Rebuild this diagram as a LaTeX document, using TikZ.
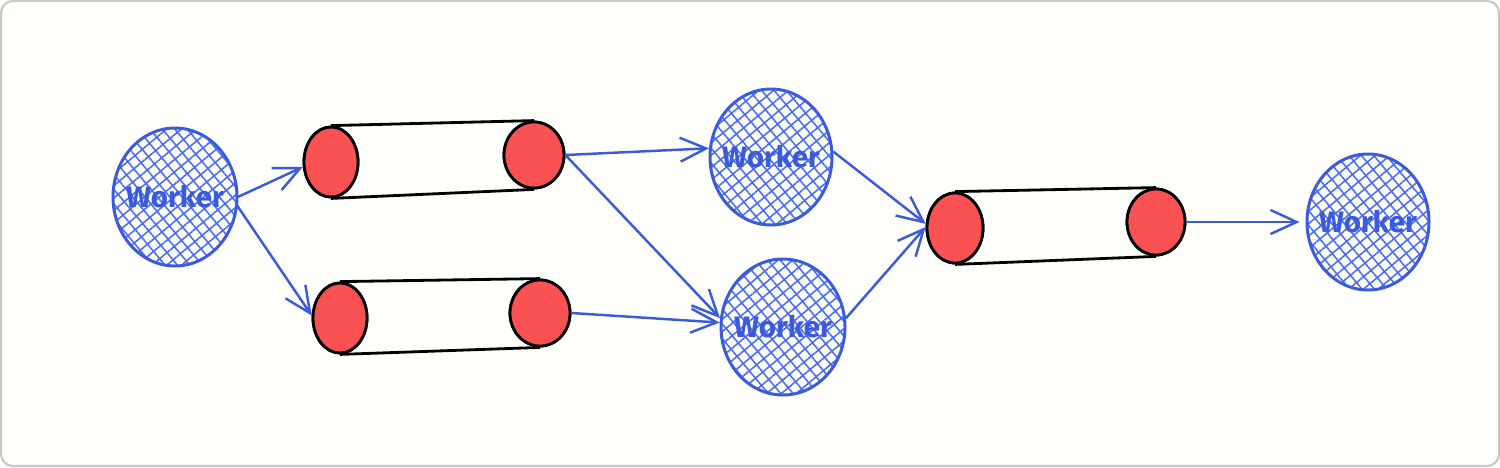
\documentclass[tikz,border=0pt]{standalone}
\usepackage{fontspec}
\setmainfont{Fira Sans}
\usetikzlibrary{shapes.geometric,arrows.meta,patterns.meta}
\definecolor{bg}{HTML}{FFFFFC}
\definecolor{frame}{HTML}{C8C8C8}
\definecolor{wblue}{HTML}{3B5BDB}
\definecolor{hblue}{HTML}{4C6EF5}
\definecolor{qred}{HTML}{FA5252}
\tikzset{
  worker/.style={ellipse, draw=wblue, line width=0.85pt, inner sep=0pt,
    pattern={Hatch[angle=40,distance=2.7pt,line width=0.45pt]}, pattern color=hblue},
  wtext/.style={text=wblue, font=\fontsize{8.4}{10}\selectfont\bfseries, inner sep=0pt},
  qend/.style={ellipse, draw=black, line width=0.8pt, fill=qred, inner sep=0pt},
  tube/.style={draw=black, line width=0.8pt},
  arr/.style={draw=wblue, line width=0.7pt, -{Straight Barb[length=2.6mm,width=2.4mm,line width=0.7pt]}},
}
\begin{document}
\begin{tikzpicture}[x=0.1mm,y=-0.1mm]
\useasboundingbox (0,0) rectangle (1500,467);
\fill[bg, rounded corners=1.2mm] (0,0) rectangle (1500,467);
\draw[frame, line width=0.6pt, rounded corners=1.2mm] (1,1) rectangle (1499,466);

% workers
\node[worker, minimum width=12.4mm, minimum height=13.8mm] (w1) at (175,197) {};
\node[wtext] (w1t) at (w1) {Worker};
\node[worker, minimum width=12.2mm, minimum height=13.6mm] (w2) at (771,157) {};
\node[wtext] (w2t) at (w2) {Worker};
\node[worker, minimum width=12.4mm, minimum height=13.6mm] (w3) at (783,327) {};
\node[wtext] (w3t) at (w3) {Worker};
\node[worker, minimum width=12.2mm, minimum height=13.6mm] (w4) at (1368,222) {};
\node[wtext] (w4t) at (w4) {Worker};

% queue 1
\node[qend, minimum width=5.4mm, minimum height=7mm] (q1a) at (331,162) {};
\node[qend, minimum width=6mm, minimum height=6.6mm] (q1b) at (534,155) {};
\draw[tube] (q1a.north) -- (q1b.north);
\draw[tube] (q1a.south) -- (q1b.south);
\node[qend, minimum width=5.4mm, minimum height=7mm] at (q1a) {};
\node[qend, minimum width=6mm, minimum height=6.6mm] at (q1b) {};

% queue 2
\node[qend, minimum width=5.4mm, minimum height=7mm] (q2a) at (340,318) {};
\node[qend, minimum width=6mm, minimum height=6.6mm] (q2b) at (540,313) {};
\draw[tube] (q2a.north) -- (q2b.north);
\draw[tube] (q2a.south) -- (q2b.south);
\node[qend, minimum width=5.4mm, minimum height=7mm] at (q2a) {};
\node[qend, minimum width=6mm, minimum height=6.6mm] at (q2b) {};

% queue 3
\node[qend, minimum width=5.6mm, minimum height=7mm] (q3a) at (955,228) {};
\node[qend, minimum width=5.8mm, minimum height=6.6mm] (q3b) at (1156,222) {};
\draw[tube] (q3a.north) -- (q3b.north);
\draw[tube] (q3a.south) -- (q3b.south);
\node[qend, minimum width=5.6mm, minimum height=7mm] at (q3a) {};
\node[qend, minimum width=5.8mm, minimum height=6.6mm] at (q3b) {};

% arrows
\draw[arr] (w1.0) -- (q1a.190);
\draw[arr] (w1.-8) -- (q2a.175);
\draw[arr] (q1b.east) -- (w2.172);
\draw[arr] (q1b.east) -- (w3.172);
\draw[arr] (q2b.east) -- (w3.176);
\draw[arr] (w2.5) -- (q3a.172);
\draw[arr] (w3.8) -- (q3a.178);
\draw[arr, shorten >=0.6mm] (q3b.east) -- (w4.180);
\end{tikzpicture}
\end{document}
